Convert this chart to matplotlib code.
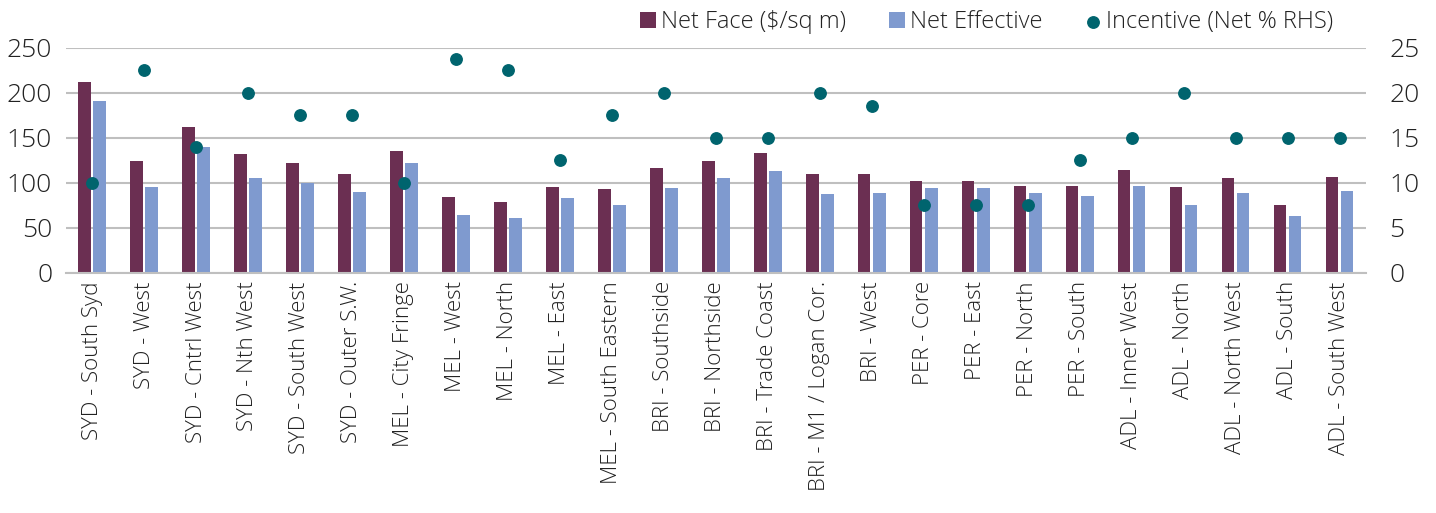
import matplotlib.pyplot as plt
import numpy as np

# Dữ liệu
categories = ['SYD - South Syd', 'SYD - West', 'SYD - Cntrl West', 'SYD - Nth West',
              'SYD - South West', 'SYD - Outer S.W.', 'MEL - City Fringe', 'MEL - West',
              'MEL - North', 'MEL - East', 'MEL - South Eastern', 'BRI - Southside',
              'BRI - Northside', 'BRI - Trade Coast', 'BRI - M1 / Logan Cor.', 'BRI - West',
              'PER - Core', 'PER - East', 'PER - North', 'PER - South', 'ADL - Inner West',
              'ADL - North', 'ADL - North West', 'ADL - South', 'ADL - South West']
net_face = [212, 124, 162, 132, 122, 110, 135, 84, 79, 95, 93, 117, 124, 133, 110, 110,
            102, 102, 97, 97, 114, 95, 105, 75, 107]
net_effective = [191, 96, 140, 105, 100, 90, 122, 64, 61, 83, 76, 94, 106, 113, 88, 89,
                 94, 94, 89, 85, 97, 75, 89, 63, 91]
incentive = [10, 22.5, 14, 20, 17.5, 17.5, 10, 23.75, 22.5, 12.5, 17.5, 20, 15, 15, 20, 18.5,
             7.5, 7.5, 7.5, 12.5, 15, 20, 15, 15, 15]

plt.rcParams['font.family'] = ['Open Sans', 'DejaVu Sans']
plt.rcParams['font.weight'] = 'light'

fig = plt.figure(figsize=(14.36, 5.13), dpi=100)
ax = fig.add_axes([0.046, 0.468, 0.905, 0.4386])
ax2 = ax.twinx()

x = np.arange(len(categories))
w = 0.24
b1 = ax.bar(x - w / 2 - 0.025, net_face, w, color='#6B2F52', label='Net Face ($/sq m)', zorder=2)
b2 = ax.bar(x + w / 2 + 0.025, net_effective, w, color='#7F9ACF', label='Net Effective', zorder=2)
sc = ax2.scatter(x, incentive, s=68, color='#00646E', label='Incentive (Net % RHS)', zorder=3)

ax.set_xlim(-0.5, len(categories) - 0.5)
ax.set_ylim(0, 250)
ax2.set_ylim(0, 25)
ax.set_yticks(range(0, 251, 50))
ax2.set_yticks(range(0, 26, 5))

# Lưới
ax.grid(axis='y', color='#BFBFBF', linewidth=1.5, zorder=0)
ax.set_axisbelow(True)

for a in (ax, ax2):
    for s in a.spines.values():
        s.set_visible(False)
    a.tick_params(length=0, labelsize=19, colors='#222222')
ax.spines['bottom'].set_visible(True)
ax.spines['bottom'].set_color('#BFBFBF')
ax.spines['bottom'].set_linewidth(1.5)

ax.set_xticks(x)
ax.set_xticklabels(categories, rotation=90, fontsize=16)
ax.tick_params(axis='x', pad=6)
ax.tick_params(axis='y', pad=10)
ax2.tick_params(axis='y', pad=17)
for t in ax2.get_yticklabels():
    t.set_horizontalalignment('left')

fig.legend(handles=[b1, b2, sc], loc='center', bbox_to_anchor=(0.687, 0.957), ncol=3,
           frameon=False, fontsize=17, handlelength=0.7, handletextpad=0.2,
           columnspacing=1.8, labelcolor='#222222')

fig.savefig('out.png', dpi=100)
